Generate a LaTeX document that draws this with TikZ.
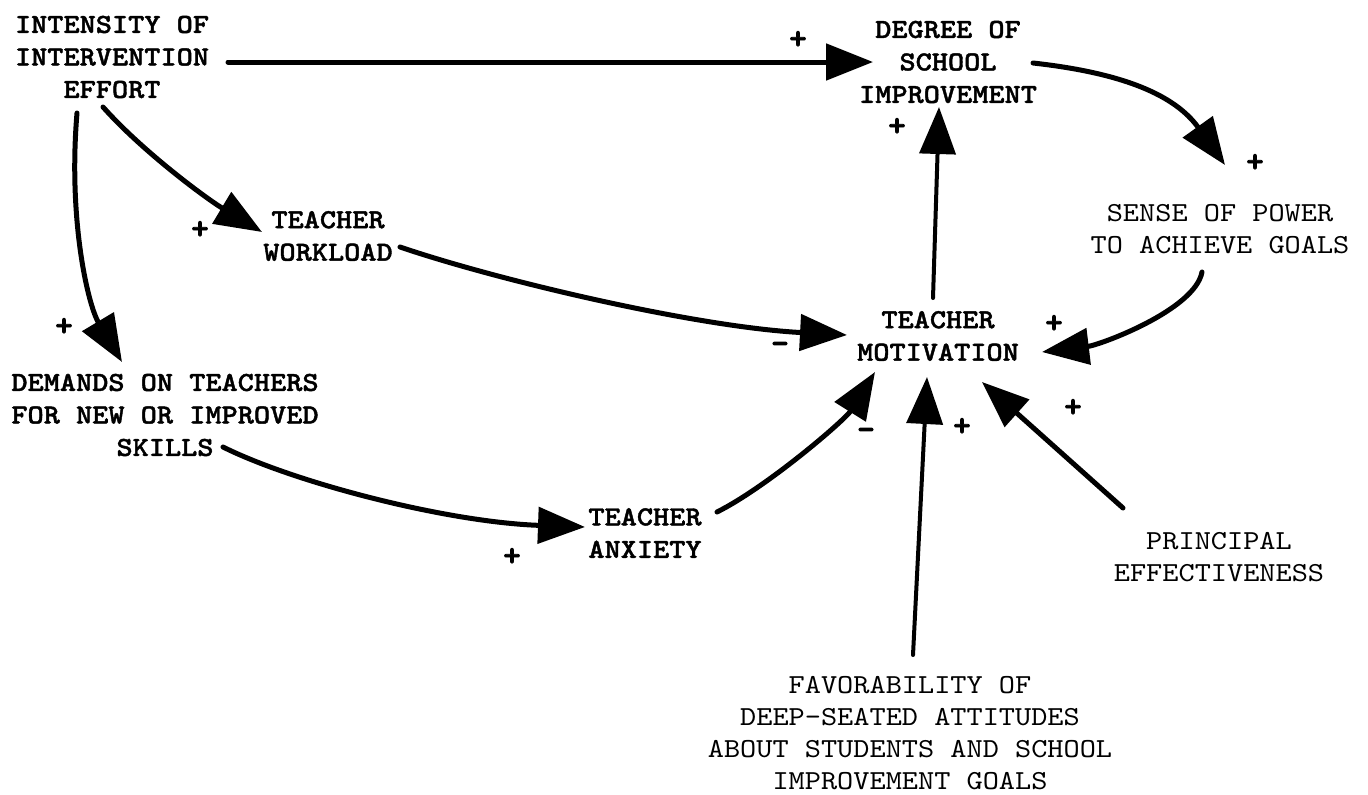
\documentclass[tikz,border=0pt]{standalone}
\usepackage{fontspec}
\newfontfamily\twbold{lmmonolt10-bold.otf}[FakeStretch=1.12,FakeBold=1.5]
\newfontfamily\twreg{lmmono10-regular.otf}[FakeStretch=1.12]
\newfontfamily\twsign{lmmonolt10-bold.otf}[FakeBold=2.5]
\usetikzlibrary{arrows.meta,calc}
\begin{document}
\begin{tikzpicture}[x=1pt,y=-1pt,
  var/.style={align=center,inner sep=0pt,outer sep=0pt,font=\fontsize{27.5}{32.5}\selectfont\twbold},
  faint/.style={align=center,inner sep=0pt,outer sep=0pt,font=\fontsize{27.5}{32}\selectfont\twreg},
  link/.style={line width=5pt,line cap=round,-{Triangle[length=47pt,width=36pt]}},
  thin link/.style={link,line width=4pt},
  sign/.style={inner sep=0pt,font=\fontsize{33}{33}\selectfont\twsign},
  minus/.style={inner sep=0pt,font=\fontsize{34}{34}\selectfont\twsign}]
\useasboundingbox[fill=white] (0,0) rectangle (1368,795);

% variables
\node[var] (int) at (112,57) {INTENSITY OF\\INTERVENTION\\EFFORT};
\node[var] (deg) at (948,62) {DEGREE OF\\SCHOOL\\IMPROVEMENT};
\node[faint] (sense) at (1220,229) {SENSE OF POWER\\TO ACHIEVE GOALS};
\node[var] (work) at (328,236) {TEACHER\\WORKLOAD};
\node[var] (mot) at (938,336) {TEACHER\\MOTIVATION};
\node[var] (dem) at (165,415) {DEMANDS ON TEACHERS\\FOR NEW OR IMPROVED\\SKILLS};
\node[var] (anx) at (645,533) {TEACHER\\ANXIETY};
\node[faint] (prin) at (1219,557) {PRINCIPAL\\EFFECTIVENESS};
\node[faint] (fav) at (910,733) {FAVORABILITY OF\\DEEP-SEATED ATTITUDES\\ABOUT STUDENTS AND SCHOOL\\IMPROVEMENT GOALS};

% connectors
\draw[link] ($(int.center)+(116,5)$) -- ($(deg.center)+(-75,0)$);
\draw[link] ($(int.center)+(-9,50)$) .. controls (143,152) and (207,199) .. ($(work.center)+(-66,-4)$);
\draw[link] ($(int.center)+(-35,56)$) .. controls (68,220) and (88,305) .. ($(dem.center)+(-43,-53)$);
\draw[link] ($(work.center)+(72,11)$) .. controls (500,281) and (697,327) .. ($(mot.center)+(-91,-1)$);
\draw[link] ($(dem.center)+(58,32)$) .. controls (293,482) and (445,522) .. ($(anx.center)+(-60,-6)$);
\draw[link] ($(anx.center)+(72,-21)$) .. controls (767,487) and (845,420) .. ($(mot.center)+(-63,36)$);
\draw[thin link] ($(mot.center)+(-5,-38)$) -- ($(deg.center)+(-9,45)$);
\draw[link] ($(deg.center)+(85,1)$) .. controls (1123,73) and (1175,95) .. ($(sense.center)+(5,-64)$);
\draw[link] ($(sense.center)+(-18,43)$) .. controls (1195,310) and (1100,345) .. ($(mot.center)+(104,16)$);
\draw[link] ($(prin.center)+(-96,-49)$) -- ($(mot.center)+(44,46)$);
\draw[thin link] ($(fav.center)+(3,-78)$) -- ($(mot.center)+(-11,41)$);

% polarity signs
\node[sign] (s1) at (798,40) {+};
\node[sign] (s2) at (897,127) {+};
\node[sign] (s3) at (1255,163) {+};
\node[sign] (s4) at (1054,324) {+};
\node[sign] (s5) at (200,230) {+};
\node[sign] (s6) at (64,327) {+};
\node[minus] (s7) at (780,348) {-};
\node[sign] (s8) at (512,557) {+};
\node[minus] (s9) at (866,434) {-};
\node[sign] (s10) at (962,427) {+};
\node[sign] (s11) at (1073,408) {+};
\end{tikzpicture}
\end{document}
